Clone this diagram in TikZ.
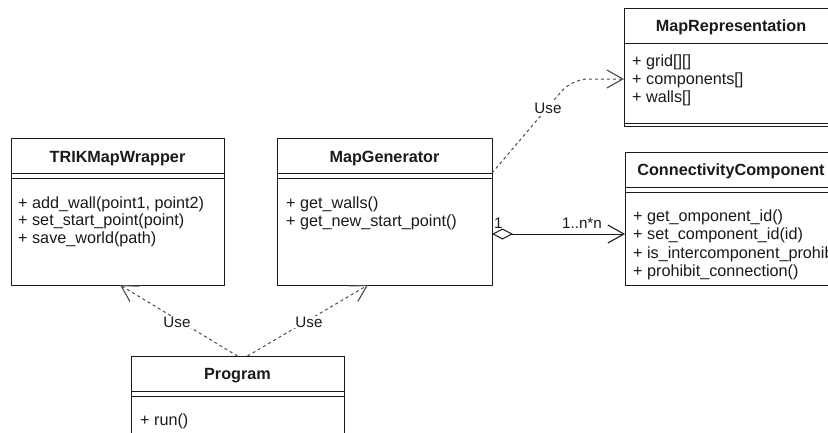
\documentclass[tikz,border=0pt]{standalone}
\usepackage{fontspec}
\setmainfont{Liberation Sans}
\usetikzlibrary{arrows.meta}
\definecolor{ink}{HTML}{1A1A1A}
\definecolor{dashgray}{HTML}{4A4A4A}
\begin{document}
\begin{tikzpicture}[x=1pt,y=-1pt,
  cls/.style={draw=ink, line width=1pt, inner sep=0pt, outer sep=0pt, fill=white},
  ttl/.style={font=\fontsize{16.2}{18}\selectfont\bfseries, text=ink, anchor=base, inner sep=0pt},
  itm/.style={font=\fontsize{16.2}{18}\selectfont, text=ink, anchor=base west, inner sep=0pt},
  sep/.style={draw=ink, line width=1pt},
  usedep/.style={draw=dashgray, line width=1pt, dash pattern=on 3pt off 3pt,
    -{Straight Barb[length=16pt,width=18pt,line width=1.1pt]}},
  agg/.style={draw=ink, line width=1pt,
    {Diamond[open,length=21pt,width=11pt,line width=1pt]}-{Straight Barb[length=16pt,width=18pt,line width=1.1pt]}},
  lbl/.style={font=\fontsize{15.2}{17}\selectfont, text=ink, fill=white, inner sep=1pt},
  mult/.style={font=\fontsize{15.2}{17}\selectfont, text=ink, inner sep=0pt}
]
\useasboundingbox (0,0) rectangle (828,432);
\clip (0,0) rectangle (828,432);
\fill[white] (0,0) rectangle (828,432);

% class boxes
\node[cls, minimum width=213pt, minimum height=147pt] (trik) at (117.5,211.5) {};
\node[cls, minimum width=215pt, minimum height=147pt] (gen) at (384.5,211.5) {};
\node[cls, minimum width=214pt, minimum height=118pt] (maprep) at (731,67) {};
\node[cls, minimum width=212pt, minimum height=133pt] (conn) at (731,218.5) {};
\node[cls, minimum width=213pt, minimum height=104pt] (prog) at (237.5,408) {};

% separators
\draw[sep] (trik.west |- 0,173) -- (trik.east |- 0,173);
\draw[sep] (trik.west |- 0,178) -- (trik.east |- 0,178);
\draw[sep] (gen.west |- 0,173) -- (gen.east |- 0,173);
\draw[sep] (gen.west |- 0,178) -- (gen.east |- 0,178);
\draw[sep] (maprep.west |- 0,43) -- (maprep.east |- 0,43);
\draw[sep] (maprep.west |- 0,123) -- (maprep.east |- 0,123);
\draw[sep] (conn.west |- 0,187) -- (conn.east |- 0,187);
\draw[sep] (conn.west |- 0,192) -- (conn.east |- 0,192);
\draw[sep] (prog.west |- 0,391) -- (prog.east |- 0,391);
\draw[sep] (prog.west |- 0,396) -- (prog.east |- 0,396);

% texts
\node[ttl] (trikT) at (117.5,162) {TRIKMapWrapper};
\node[itm] (trik1) at (18,208) {+ add\_wall(point1, point2)};
\node[itm] (trik2) at (18,225.5) {+ set\_start\_point(point)};
\node[itm] (trik3) at (18,243) {+ save\_world(path)};

\node[ttl] (genT) at (384.5,162) {MapGenerator};
\node[itm] (gen1) at (286,208) {+ get\_walls()};
\node[itm] (gen2) at (286,226) {+ get\_new\_start\_point()};

\node[ttl] (maprepT) at (731,31) {MapRepresentation};
\node[itm] (maprep1) at (632,66) {+ grid[][]};
\node[itm] (maprep2) at (632,84) {+ components[]};
\node[itm] (maprep3) at (632,102) {+ walls[]};

\node[ttl] (connT) at (731,175) {ConnectivityComponent};
\node[itm] (conn1) at (633,221) {+ get\_omponent\_id()};
\node[itm] (conn2) at (633,239) {+ set\_component\_id(id)};
\node[itm] (conn3) at (633,258) {+ is\_intercomponent\_prohib};
\node[itm] (conn4) at (633,276) {+ prohibit\_connection()};

\node[ttl] (progT) at (237.5,379) {Program};
\node[itm] (prog1) at (140,425) {+ run()};

% connectors
\draw[usedep] (prog.north) -- ([xshift=2.5pt]trik.south);
\draw[usedep] ([xshift=10pt]prog.north) -- ([xshift=-16.5pt]gen.south);
\coordinate (bend) at (572,79);
\draw[usedep, rounded corners=16pt] ([yshift=-35pt]gen.north east) -- (bend) -- ([yshift=-12pt]maprep.west);
\draw[agg] ([yshift=-22.5pt]gen.east) -- ([yshift=-15.5pt]conn.west);

% labels
\node[lbl] (use1) at (177,322) {Use};
\node[lbl] (use2) at (309,322) {Use};
\node[lbl] (use3) at (548,108) {Use};
\node[mult, anchor=base west] (m1) at (494,228) {1};
\node[mult, anchor=base] (m2) at (582,228) {1..n*n};
\end{tikzpicture}
\end{document}
